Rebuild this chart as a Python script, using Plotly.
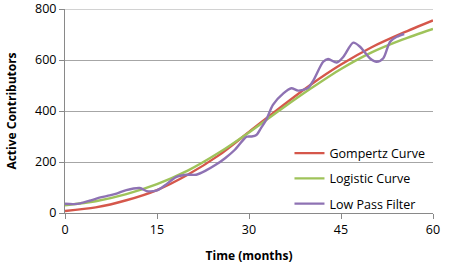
import plotly.graph_objects as go

# Gompertz curve readings
gomp_t = [0, 5, 10, 15, 20, 25, 30, 35, 40, 45, 50, 55, 60]
gomp_v = [8, 22, 50, 90, 150, 225, 318, 412, 502, 582, 650, 705, 755]

# Logistic curve readings
logi_t = [0, 5, 10, 15, 20, 25, 30, 35, 40, 45, 50, 55, 60]
logi_v = [30, 46, 74, 113, 166, 235, 316, 403, 487, 565, 630, 680, 722]

# Low pass filter readings
lpf_t = [0, 1.5, 2.5, 4, 5.6, 7.3, 8.4, 10.0, 12.2, 13.3, 15, 16.5, 18.1, 19.8, 21.4, 23,
         24.5, 26.1, 27.7, 29.0, 29.6, 30.4, 31.2, 32.0, 32.8, 33.9, 35.6, 36.9, 38.0,
         39.6, 40.5, 42.1, 42.9, 44.3, 45.4, 47.0, 48.1, 49.7, 50.8, 51.9, 53.0, 54.1, 55.3]
lpf_v = [36, 35, 38, 48, 60, 69, 76, 90, 98, 86, 89, 112, 141, 150, 150, 167,
         188, 215, 248, 285, 299, 300, 306, 335, 365, 424, 469, 489, 480,
         490, 520, 593, 604, 590, 613, 668, 652, 607, 593, 607, 672, 691, 702]

names = ["Gompertz Curve", "Logistic Curve", "Low Pass Filter"]
colors = ["#d5574b", "#9fc35a", "#8e72b3"]

x_ticks = [0, 15, 30, 45, 60]
y_ticks = [0, 200, 400, 600, 800]

FONT = "Open Sans"
GRID = "#a6a6a6"

fig = go.Figure()
for i, (t, v) in enumerate([(gomp_t, gomp_v), (logi_t, logi_v), (lpf_t, lpf_v)]):
    fig.add_trace(go.Scatter(
        x=t, y=v, mode="lines", name=names[i], legendgroup=str(i),
        line=dict(color=colors[i], width=2.4, shape="spline", smoothing=0.8),
    ))

# top gridline at the last y tick (plotly skips grid at the range edge)
fig.add_shape(type="line", xref="paper", yref="y", x0=0, x1=1,
              y0=y_ticks[-1], y1=y_ticks[-1], line=dict(color=GRID, width=1), layer="below")

fig.update_layout(
    width=452, height=264,
    margin=dict(l=65, r=19, t=9, b=51, autoexpand=False),
    paper_bgcolor="white", plot_bgcolor="white",
    font=dict(family=FONT, size=12.5, color="black"),
    showlegend=True,
    legend=dict(
        x=0.61, y=0.365, xanchor="left", yanchor="top",
        bgcolor="rgba(0,0,0,0)", tracegroupgap=6, itemwidth=30,
        font=dict(family=FONT, size=12.5, color="black"),
    ),
    xaxis=dict(
        range=[0, 60], tickvals=x_ticks, ticktext=[str(v) for v in x_ticks],
        showgrid=False, zeroline=False, showline=True, linecolor="#898989", linewidth=1,
        ticks="outside", ticklen=5, tickcolor="#898989", automargin=False,
        ticklabeloverflow="allow",
        title=dict(text="<b>Time (months)</b>", font=dict(family=FONT, size=12)),
        tickfont=dict(family=FONT, size=12.5),
    ),
    yaxis=dict(
        range=[0, 800], tickvals=y_ticks, ticktext=[str(v) for v in y_ticks],
        showgrid=True, gridcolor=GRID, gridwidth=1, zeroline=False,
        showline=True, linecolor="#898989", linewidth=1,
        ticks="outside", ticklen=5, tickcolor="#898989", automargin=False,
        ticklabeloverflow="allow",
        title=dict(text="<b>Active Contributors</b>", font=dict(family=FONT, size=12)),
        tickfont=dict(family=FONT, size=12.5),
    ),
)

fig.write_html(
    "out.html",
    config={"displayModeBar": False},
    post_script="document.body.style.margin='0';document.body.style.overflow='hidden';",
)
